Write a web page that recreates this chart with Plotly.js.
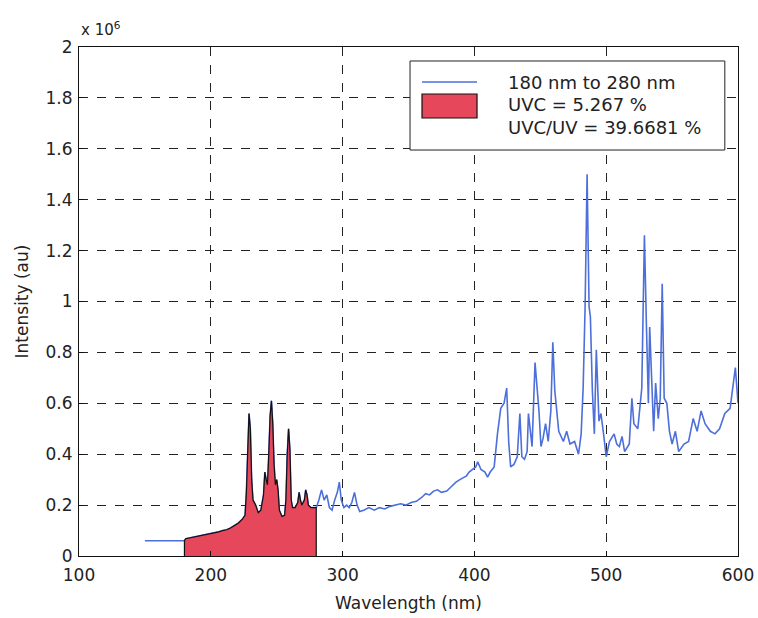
<!DOCTYPE html>
<html>
<head>
<meta charset="utf-8">
<script src="https://cdn.plot.ly/plotly-3.0.1.min.js"></script>
<style>html,body{margin:0;padding:0;background:#fff;}</style>
</head>
<body>
<div id="chart" style="width:758px;height:618px;"></div>
<script>
// Spectrum (wavelength in nm, intensity in units of 10^6 au)
const wavelength = [
  150, 180, 181, 185, 190, 193, 196, 200, 203, 206, 209, 212, 215, 218, 221, 224, 226,
  227, 228, 229, 230, 231, 232, 234, 236, 238, 240, 241, 242, 243, 244, 245, 246, 247,
  248, 249, 250, 251, 252, 254, 256, 257, 258, 259, 260, 261, 262, 264, 266, 267, 268,
  269, 271, 272, 273, 274, 276, 278, 280,
  282, 284, 286, 288, 290, 292, 294, 296, 297.5, 299, 301, 303, 305, 307, 309, 311, 313,
  316, 320, 324, 328, 332, 336, 340, 344, 348, 352, 356, 360, 363, 366, 369, 372, 375,
  379, 382, 386, 389, 392, 394, 396, 399, 401, 402.5, 405, 408, 410, 412, 415, 417.5,
  420, 422.5, 424.5, 426, 427.5, 430, 432.5, 434.5, 436, 438, 440, 441, 443.75, 446,
  449, 450.5, 452, 454, 456, 458, 459.5, 461, 464, 467.5, 470, 472.5, 476, 479, 481,
  482.5, 484, 485.5, 487, 488, 489.5, 491, 492.5, 494.5, 496, 498, 500, 502.5, 506,
  508, 510, 512, 514, 517.5, 519.5, 521, 524, 527, 528, 529, 530.5, 532, 533, 534.5,
  536, 537.5, 539.5, 541, 542.5, 544, 546, 548, 550, 552.5, 555, 559, 562.5, 566, 569,
  572, 575, 579, 582.5, 586, 590, 594, 596, 598, 600
];
const intensity = [
  0.06, 0.06, 0.068, 0.072, 0.078, 0.082, 0.085, 0.088, 0.092, 0.095, 0.10, 0.103, 0.11, 0.12, 0.13, 0.145, 0.16,
  0.25, 0.42, 0.56, 0.50, 0.30, 0.22, 0.20, 0.17, 0.18, 0.24, 0.33, 0.30, 0.28, 0.40, 0.55, 0.61, 0.52,
  0.36, 0.28, 0.30, 0.26, 0.18, 0.155, 0.16, 0.22, 0.40, 0.50, 0.42, 0.22, 0.19, 0.19, 0.21, 0.25, 0.22,
  0.20, 0.22, 0.26, 0.24, 0.20, 0.19, 0.19, 0.19,
  0.22, 0.26, 0.22, 0.24, 0.19, 0.18, 0.22, 0.25, 0.29, 0.22, 0.19, 0.20, 0.19, 0.21, 0.25, 0.20, 0.175,
  0.18, 0.19, 0.18, 0.19, 0.185, 0.195, 0.20, 0.205, 0.20, 0.21, 0.215, 0.23, 0.245, 0.24, 0.255, 0.26, 0.25,
  0.255, 0.27, 0.29, 0.30, 0.31, 0.315, 0.33, 0.34, 0.35, 0.37, 0.34, 0.33, 0.31, 0.33, 0.35, 0.48,
  0.58, 0.60, 0.66, 0.45, 0.35, 0.36, 0.39, 0.56, 0.39, 0.38, 0.41, 0.56, 0.43, 0.76,
  0.57, 0.43, 0.46, 0.52, 0.45, 0.57, 0.84, 0.65, 0.49, 0.45, 0.49, 0.44, 0.45, 0.40, 0.48,
  0.66, 0.98, 1.50, 0.98, 0.94, 0.65, 0.48, 0.81, 0.53, 0.56, 0.48, 0.39, 0.45, 0.48,
  0.44, 0.43, 0.47, 0.41, 0.44, 0.62, 0.52, 0.50, 0.66, 1.04, 1.26, 0.91, 0.60, 0.90, 0.65,
  0.49, 0.68, 0.54, 0.62, 1.07, 0.62, 0.60, 0.49, 0.44, 0.49, 0.41, 0.44, 0.45, 0.54, 0.49,
  0.57, 0.52, 0.49, 0.48, 0.50, 0.56, 0.58, 0.66, 0.74, 0.60
];
const uvcLow = 180, uvcHigh = 280;
const xTicks = [100, 200, 300, 400, 500, 600];
const yTicks = [0, 0.2, 0.4, 0.6, 0.8, 1, 1.2, 1.4, 1.6, 1.8, 2];
const yTickText = ['0', '0.2', '0.4', '0.6', '0.8', '1', '1.2', '1.4', '1.6', '1.8', '2'];
const legendLabels = ['180 nm to 280 nm', 'UVC = 5.267 %', 'UVC/UV = 39.6681 %'];

// UVC band polygon (from data, closed to the baseline)
const uvcX = [], uvcY = [];
wavelength.forEach((w, i) => {
  if (w >= uvcLow && w <= uvcHigh) { uvcX.push(w); uvcY.push(intensity[i]); }
});
const fillX = [uvcX[0]].concat(uvcX, [uvcX[uvcX.length - 1]]);
const fillY = [0].concat(uvcY, [0]);

const blue = '#4d6fdb';
const red = '#e6475a';
const font = 'DejaVu Sans, Arial, sans-serif';

const traces = [
  { x: wavelength, y: intensity, type: 'scatter', mode: 'lines',
    line: { color: blue, width: 1.6 }, name: legendLabels[0], hoverinfo: 'x+y' },
  { x: fillX, y: fillY, type: 'scatter', mode: 'lines', fill: 'toself',
    fillcolor: red, line: { color: '#111', width: 1.2 }, name: legendLabels[1] }
];

// Legend drawn in paper coordinates
const lg = { x0: 0.5023, x1: 0.980, y0: 0.7976, y1: 0.9725 };
const layout = {
  width: 758, height: 618,
  margin: { l: 79, r: 20, t: 47, b: 62 },
  paper_bgcolor: '#fff', plot_bgcolor: '#fff',
  showlegend: false,
  font: { family: font, size: 16, color: '#222' },
  xaxis: {
    range: [100, 600], tickvals: xTicks, ticktext: xTicks.map(String),
    showgrid: true, gridcolor: '#222', griddash: 'dash', gridwidth: 1,
    zeroline: false, showline: true, linecolor: '#111', linewidth: 1, mirror: true,
    ticks: 'inside', ticklen: 5, tickcolor: '#111', ticklabelstandoff: 4,
    tickfont: { family: font, size: 17, color: '#222' },
    title: { text: 'Wavelength (nm)', font: { family: font, size: 17, color: '#222' }, standoff: 12 }
  },
  yaxis: {
    range: [0, 2], tickvals: yTicks, ticktext: yTickText,
    showgrid: true, gridcolor: '#222', griddash: 'dash', gridwidth: 1,
    zeroline: false, showline: true, linecolor: '#111', linewidth: 1, mirror: true,
    ticks: 'inside', ticklen: 5, tickcolor: '#111', ticklabelstandoff: 2,
    tickfont: { family: font, size: 17, color: '#222' },
    title: { text: 'Intensity (au)', font: { family: font, size: 17, color: '#222' }, standoff: 12 }
  },
  shapes: [
    { type: 'rect', xref: 'paper', yref: 'paper', x0: lg.x0, x1: lg.x1, y0: lg.y0, y1: lg.y1,
      fillcolor: '#fff', line: { color: '#222', width: 1 }, layer: 'above' },
    { type: 'line', xref: 'paper', yref: 'paper', x0: 0.5205, x1: 0.6040, y0: 0.9312, y1: 0.9312,
      line: { color: blue, width: 1.6 }, layer: 'above' },
    { type: 'rect', xref: 'paper', yref: 'paper', x0: 0.5205, x1: 0.6040, y0: 0.8605, y1: 0.9077,
      fillcolor: red, line: { color: '#111', width: 1.2 }, layer: 'above' }
  ],
  annotations: [
    { xref: 'paper', yref: 'paper', x: 0.648, y: 0.9312, xanchor: 'left', yanchor: 'middle',
      text: legendLabels[0], showarrow: false, font: { family: font, size: 18, color: '#222' } },
    { xref: 'paper', yref: 'paper', x: 0.648, y: 0.888, xanchor: 'left', yanchor: 'middle',
      text: legendLabels[1], showarrow: false, font: { family: font, size: 18, color: '#222' } },
    { xref: 'paper', yref: 'paper', x: 0.648, y: 0.8428, xanchor: 'left', yanchor: 'middle',
      text: legendLabels[2], showarrow: false, font: { family: font, size: 18, color: '#222' } },
    { xref: 'paper', yref: 'paper', x: 0.0, y: 1.012, xanchor: 'left', yanchor: 'bottom',
      text: 'x 10<sup>6</sup>', showarrow: false, font: { family: font, size: 15, color: '#222' } }
  ]
};

Plotly.newPlot('chart', traces, layout, { displayModeBar: false, staticPlot: true });
</script>
</body>
</html>
